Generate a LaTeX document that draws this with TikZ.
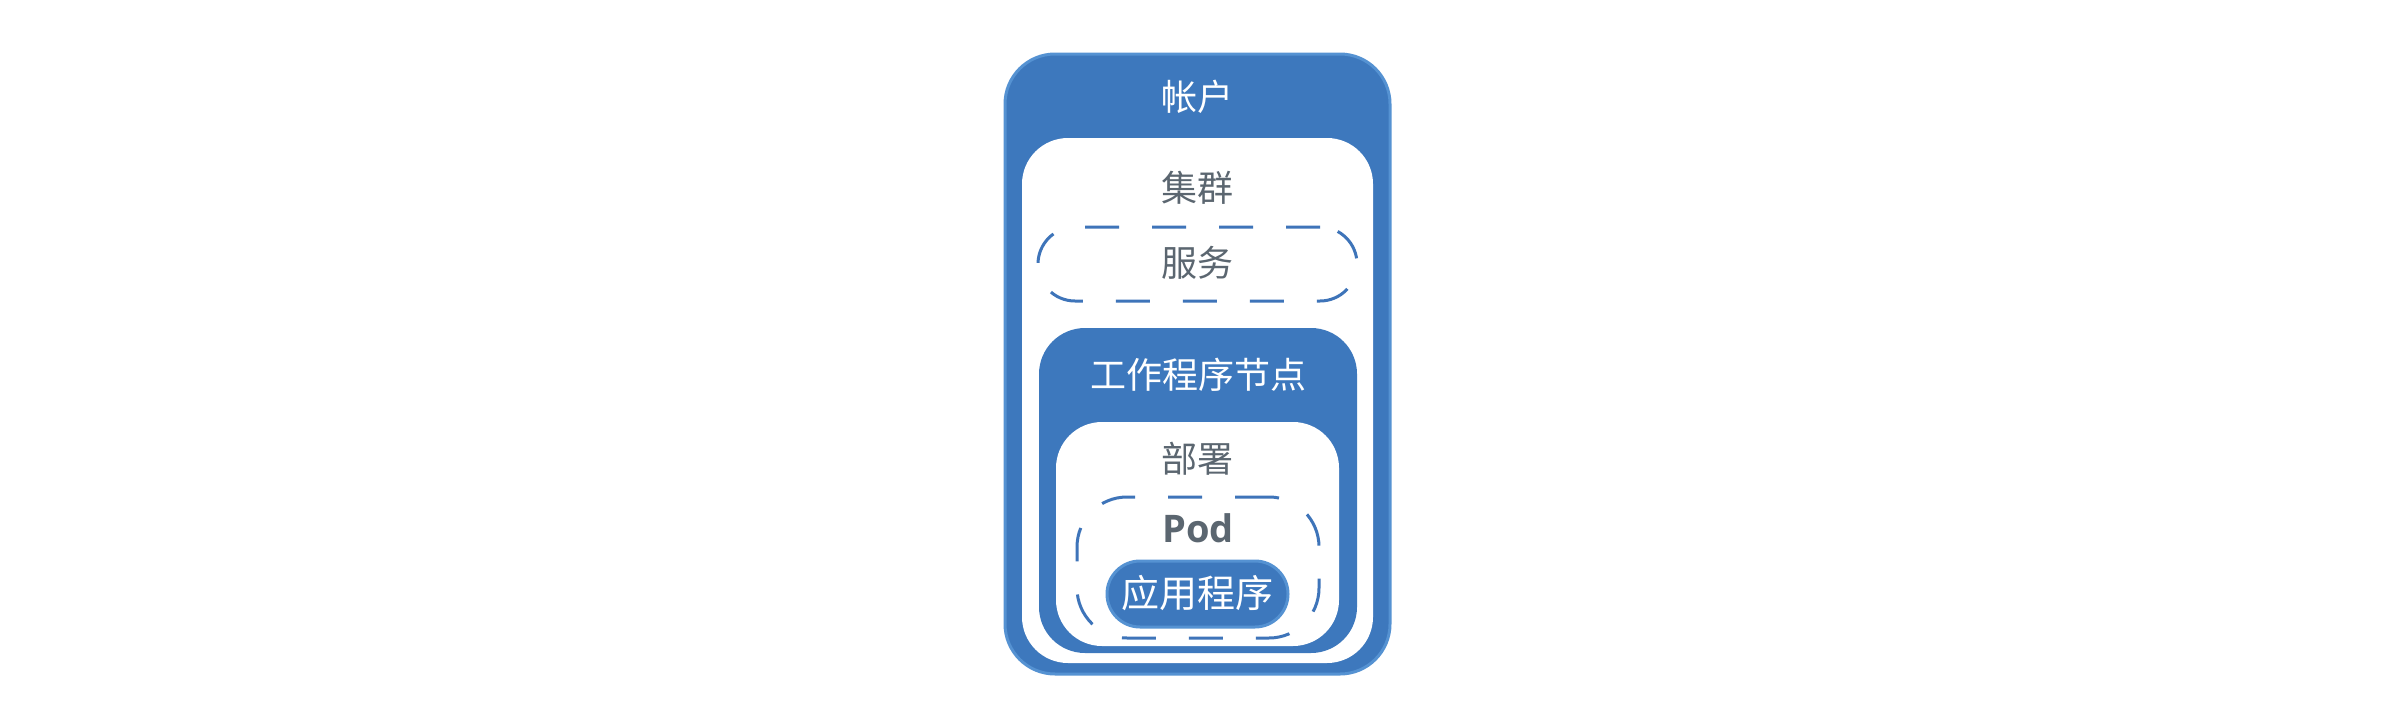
\documentclass[tikz,border=0pt]{standalone}
\usepackage{fontspec}
\setmainfont{Noto Sans CJK SC}
\newfontfamily\podfont{Open Sans}
\definecolor{boxblue}{HTML}{3D78BD}
\definecolor{edgeblue}{HTML}{5592D2}
\definecolor{dashblue}{HTML}{3E74B9}
\definecolor{txtgray}{HTML}{5B6670}
\begin{document}
\begin{tikzpicture}[x=1pt,y=-1pt,
  bluebox/.style={rectangle,fill=boxblue,draw=edgeblue,line width=3pt,inner sep=0pt},
  whitebox/.style={rectangle,fill=white,draw=none,inner sep=0pt},
  dashbox/.style={rectangle,draw=dashblue,line width=3pt,dash pattern=on 34pt off 33pt,inner sep=0pt},
  whitetxt/.style={text=white,font=\fontsize{36}{40}\selectfont,inner sep=0pt},
  graytxt/.style={text=txtgray,font=\fontsize{36}{40}\selectfont,inner sep=0pt}]
\useasboundingbox[fill=white] (0,0) rectangle (2396,718);
\node[bluebox,minimum width=385pt,minimum height=620pt,rounded corners=50pt] (account) at (1197.5,364) {};
\node[whitebox,minimum width=351pt,minimum height=525pt,rounded corners=46pt] (cluster) at (1197.5,400.5) {};
\node[dashbox,minimum width=319pt,minimum height=74pt,rounded corners=37pt] (service) at (1197.5,264) {};
\node[bluebox,draw=none,minimum width=318pt,minimum height=325pt,rounded corners=46pt] (worker) at (1198,490.5) {};
\node[whitebox,minimum width=283pt,minimum height=224pt,rounded corners=46pt] (deploy) at (1197.5,534) {};
\node[dashbox,minimum width=242pt,minimum height=141pt,rounded corners=50pt] (pod) at (1198,567.5) {};
\node[bluebox,minimum width=181pt,minimum height=66pt,rounded corners=33pt] (app) at (1197.5,594) {};
\node[whitetxt] (taccount) at (1197,97) {帐户};
\node[graytxt] (tcluster) at (1197,188) {集群};
\node[graytxt] (tservice) at (1197,263) {服务};
\node[whitetxt] (tworker) at (1198,375) {工作程序节点};
\node[graytxt] (tdeploy) at (1197,459) {部署};
\node[text=txtgray,font=\podfont\bfseries\fontsize{38}{42}\selectfont,inner sep=0pt] (tpod) at (1198,528) {Pod};
\node[whitetxt,font=\fontsize{38}{42}\selectfont] (tapp) at (1197.5,593) {应用程序};
\end{tikzpicture}
\end{document}
